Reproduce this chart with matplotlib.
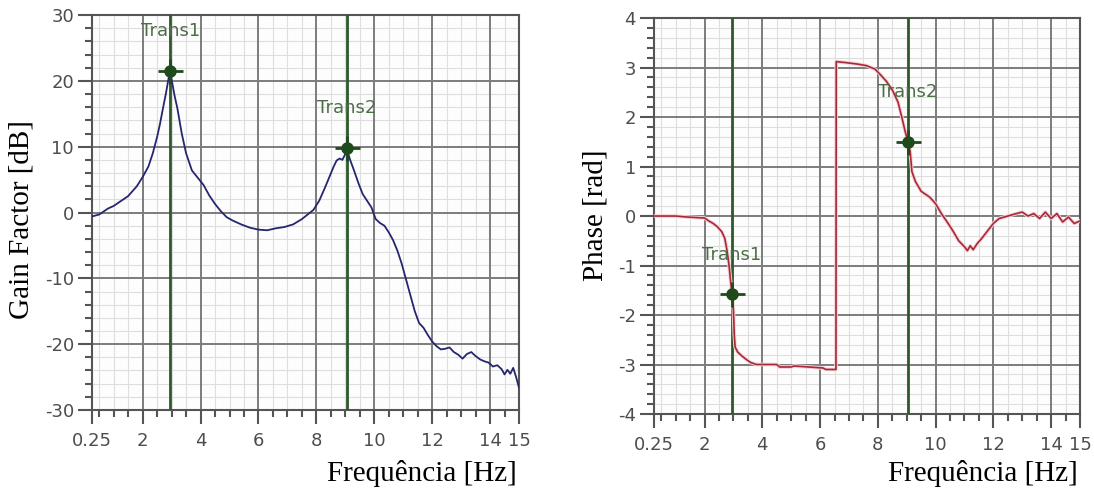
import matplotlib
matplotlib.use('Agg')
import matplotlib.pyplot as plt
from matplotlib.ticker import FixedLocator, MultipleLocator

plt.rcParams['font.family'] = ['DejaVu Sans']
plt.rcParams['axes.unicode_minus'] = False

# eixo de frequencia
xticks = [0.25, 2, 4, 6, 8, 10, 12, 14, 15]
xticklabels = ['0.25', '2', '4', '6', '8', '10', '12', '14', '15']

# ganho (dB)
gain_freq = [0.25, 0.5, 0.8, 1.0, 1.2, 1.5, 1.8, 2.0, 2.2, 2.35, 2.5, 2.6, 2.7, 2.8,
             2.9, 2.95, 3.0, 3.1, 3.2, 3.35, 3.5, 3.7, 3.9, 4.1, 4.3, 4.5, 4.7, 4.9,
             5.1, 5.4, 5.7, 6.0, 6.3, 6.6, 6.9, 7.2, 7.5, 7.7, 7.9, 8.1, 8.3, 8.45,
             8.6, 8.7, 8.8, 8.9, 9.0, 9.05, 9.15, 9.3, 9.45, 9.6, 9.75, 9.9, 10.05,
             10.2, 10.35, 10.5, 10.65, 10.8, 10.95, 11.1, 11.25, 11.4, 11.55, 11.7,
             11.85, 12.0, 12.15, 12.3, 12.45, 12.6, 12.75, 12.9, 13.05, 13.2, 13.35,
             13.5, 13.65, 13.8, 13.95, 14.1, 14.25, 14.4, 14.5, 14.6, 14.7, 14.8,
             14.9, 15.0]
gain_db = [-0.6, -0.3, 0.6, 1.0, 1.6, 2.5, 4.0, 5.4, 7.0, 9.0, 11.5, 13.5, 15.8, 18.0,
           20.5, 21.5, 20.2, 17.8, 15.8, 12.0, 9.0, 6.4, 5.3, 4.2, 2.6, 1.3, 0.2, -0.7,
           -1.2, -1.8, -2.3, -2.6, -2.7, -2.4, -2.2, -1.8, -1.0, -0.3, 0.4, 1.8, 3.8, 5.4,
           7.0, 7.9, 8.2, 8.0, 8.9, 9.8, 8.2, 6.4, 4.5, 2.8, 1.8, 0.8, -1.0,
           -1.6, -2.0, -3.0, -4.2, -5.8, -7.8, -10.2, -12.6, -15.0, -16.8, -17.5,
           -18.6, -19.6, -20.3, -20.8, -20.7, -20.5, -21.2, -21.6, -22.2, -21.5, -21.2,
           -21.8, -22.3, -22.6, -22.8, -23.4, -23.2, -23.8, -24.6, -23.9, -24.5, -23.6,
           -25.0, -26.6]

# fase (rad)
phase_freq = [0.25, 0.6, 1.0, 1.4, 1.7, 2.0, 2.15, 2.3, 2.45, 2.6, 2.7, 2.78, 2.85,
              2.9, 2.95, 3.0, 3.03, 3.06, 3.15, 3.3, 3.45, 3.6, 3.8, 4.2, 4.5, 4.6,
              5.0, 5.1, 5.6, 6.1, 6.2, 6.55, 6.56, 6.9, 7.3, 7.6, 7.9, 8.1, 8.3, 8.5,
              8.7, 8.85, 8.95, 9.05, 9.12, 9.18, 9.3, 9.5, 9.8, 10.0, 10.2, 10.4, 10.6,
              10.8, 11.0, 11.1, 11.2, 11.3, 11.45, 11.6, 11.8, 12.0, 12.2, 12.5, 12.8,
              13.0, 13.2, 13.4, 13.6, 13.8, 14.0, 14.2, 14.4, 14.6, 14.8, 15.0]
phase_rad = [0.0, 0.0, 0.0, -0.02, -0.03, -0.04, -0.1, -0.15, -0.22, -0.32, -0.45, -0.7, -1.0,
             -1.3, -1.58, -1.9, -2.4, -2.65, -2.75, -2.83, -2.9, -2.96, -3.0, -3.0, -3.0, -3.05,
             -3.05, -3.03, -3.05, -3.07, -3.1, -3.1, 3.12, 3.1, 3.07, 3.04, 2.97, 2.85, 2.72, 2.55,
             2.3, 1.95, 1.7, 1.5, 1.3, 0.9, 0.7, 0.5, 0.38, 0.25, 0.05, -0.12, -0.3,
             -0.5, -0.62, -0.7, -0.6, -0.68, -0.55, -0.45, -0.3, -0.15, -0.05, 0.0, 0.05,
             0.08, 0.0, 0.05, -0.05, 0.08, -0.05, 0.05, -0.12, -0.02, -0.15, -0.1]

# marcadores (cursores)
cursor_names = ['Trans1', 'Trans2']
cursor_freq = [2.95, 9.05]
cursor_gain = [21.5, 9.8]
cursor_phase = [-1.58, 1.5]

grid_major = '#7c7c7c'
grid_minor = '#dedede'
spine_c = '#555555'
cursor_c = '#2e5a2a'
label_c = '#4e6e48'


def style_axes(ax, ylim, ymaj, ymin):
    ax.set_facecolor('#fcfdfc')
    ax.set_xlim(0.25, 15)
    ax.set_ylim(*ylim)
    ax.xaxis.set_major_locator(FixedLocator(xticks))
    ax.set_xticklabels(xticklabels)
    ax.xaxis.set_minor_locator(MultipleLocator(0.5))
    ax.yaxis.set_major_locator(MultipleLocator(ymaj))
    ax.yaxis.set_minor_locator(MultipleLocator(ymin))
    ax.grid(which='minor', color=grid_minor, lw=0.8)
    ax.set_axisbelow(True)
    # grade principal por cima da grade fina
    for x in xticks[1:-1]:
        ax.axvline(x, color=grid_major, lw=1.4, zorder=1)
    for y in ax.get_yticks():
        if ylim[0] < y < ylim[1]:
            ax.axhline(y, color=grid_major, lw=1.4, zorder=1)
    for s in ax.spines.values():
        s.set_color(spine_c)
        s.set_linewidth(1.5)
    ax.tick_params(which='major', direction='out', length=10, width=1.5, color=spine_c,
                   labelsize=13, labelcolor='#4d4d4d')
    ax.tick_params(which='minor', direction='out', length=5, width=1.5, color=spine_c)
    ax.tick_params(axis='x', which='major', pad=6)
    ax.tick_params(axis='y', which='major', pad=3)


def draw_cursors(ax, values, offsets):
    for name, f, v, off in zip(cursor_names, cursor_freq, values, offsets):
        ax.axvline(f, color=cursor_c, lw=2, zorder=3)
        ax.plot(f, v, 'o', color='#1f4a1c', ms=8, zorder=5)
        ax.plot(f, v, '+', color='#1f4a1c', ms=18, mew=2, zorder=5)
        ax.annotate(name, xy=(f, v), xytext=(0, off), textcoords='offset points',
                    ha='center', va='center', color=label_c, fontsize=13, zorder=6)


fig = plt.figure(figsize=(10.94, 4.9), dpi=100)
ax1 = fig.add_axes([0.0841, 0.1633, 0.3903, 0.806])
ax2 = fig.add_axes([0.5978, 0.1551, 0.3894, 0.808])

style_axes(ax1, (-30, 30), 10, 2)
ax1.plot(gain_freq, gain_db, color='#26266e', lw=1.3, zorder=4)
draw_cursors(ax1, cursor_gain, [29, 29])

style_axes(ax2, (-4, 4), 1, 0.2)
ax2.plot(phase_freq, phase_rad, color='#f6d0d6', lw=2.6, zorder=4)
ax2.plot(phase_freq, phase_rad, color='#a8283a', lw=1.2, zorder=4)
draw_cursors(ax2, cursor_phase, [28, 36])

serif = ['Liberation Serif', 'DejaVu Serif']
fig.text(0.020, 1 - 220 / 490, 'Gain Factor [dB]', rotation=90, ha='center', va='center',
         fontsize=21, family=serif)
fig.text(0.544, 1 - 215 / 490, 'Phase [rad]', rotation=90, ha='center', va='center',
         fontsize=21, family=serif)
fig.text(0.386, 1 - 473 / 490, 'Frequência [Hz]', ha='center', va='center',
         fontsize=21, family=serif)
fig.text(0.898, 1 - 473 / 490, 'Frequência [Hz]', ha='center', va='center',
         fontsize=21, family=serif)

fig.savefig('out.png', dpi=100, facecolor='white')
